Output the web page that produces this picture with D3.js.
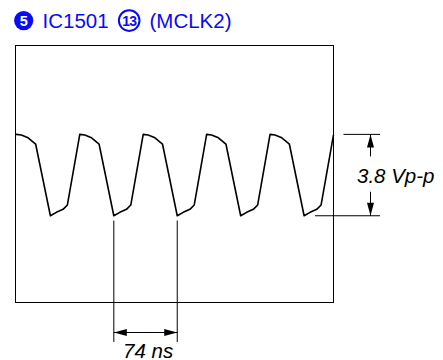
<!DOCTYPE html>
<html><head><meta charset="utf-8">
<script src="https://cdn.jsdelivr.net/npm/d3@7"></script>
<style>
body{margin:0;background:#fff}
svg{display:block}
text{font-family:"Liberation Sans",Arial,Helvetica,sans-serif}
</style>
</head><body>
<svg id="c" width="443" height="360"></svg>
<script>
// ---- data ----
const titleNumber = "5";
const titleChip = "IC1501";
const titlePin = "13";
const titleSignal = "(MCLK2)";

const waveTime = [0, 1, 6.8, 14.7, 23.5, 40.7, 47.7, 55.5, 60.5,
  75, 80.8, 88.7, 97.5, 114.7, 121.7, 129.5, 134.5,
  149, 154.8, 162.7, 171.5, 188.7, 195.7, 203.5, 208.5,
  223, 228.8, 236.7, 245.5, 262.7, 269.7, 277.5, 282.5,
  297, 302.8, 310.7, 319.5, 336.7, 343.7, 351.5, 356.5,
  371];
const waveVolt = [3.8, 3.8, 3.77, 3.64, 3.35, 0, 0.16, 0.30, 0.50,
  3.8, 3.77, 3.64, 3.35, 0, 0.16, 0.30, 0.50,
  3.8, 3.77, 3.64, 3.35, 0, 0.16, 0.30, 0.50,
  3.8, 3.77, 3.64, 3.35, 0, 0.16, 0.30, 0.50,
  3.8, 3.77, 3.64, 3.35, 0, 0.16, 0.30, 0.50,
  3.78];

const timeDomain = [0, 371];      // ns across the screen
const voltDomain = [-4.05, 7.95]; // volts across the screen
const lowLevel = 0;
const highLevel = 3.8;
const periodStartNs = 114.7;
const periodNs = 74;
const ppLabel = "3.8 Vp-p";
const periodLabel = "74 ns";

// ---- drawing ----
const svg = d3.select("#c");
const box = {left: 15.5, right: 333.5, top: 45.5, bottom: 302.5};
const x = d3.scaleLinear().domain(timeDomain).range([box.left, box.right]);
const y = d3.scaleLinear().domain(voltDomain).range([box.bottom, box.top]);
const blue = "#0a0af5";

// title
const tg = svg.append("g");
tg.append("circle").attr("cx", 23.7).attr("cy", 20.6).attr("r", 9.6).attr("fill", blue);
tg.append("text").attr("x", 23.7).attr("y", 25.7).attr("text-anchor", "middle")
  .attr("fill", "#fff").attr("font-weight", "bold").attr("font-size", 14.5).text(titleNumber);
tg.append("text").attr("x", 42.5).attr("y", 28.4).attr("fill", blue)
  .attr("font-size", 20.5).text(titleChip);
tg.append("circle").attr("cx", 129.2).attr("cy", 20.6).attr("r", 10.3).attr("fill", "none")
  .attr("stroke", blue).attr("stroke-width", 2);
tg.append("text").attr("x", 129.2).attr("y", 25.6).attr("text-anchor", "middle")
  .attr("fill", blue).attr("font-size", 14).attr("font-weight", "bold")
  .attr("letter-spacing", -0.8).text(titlePin);
tg.append("text").attr("x", 149.5).attr("y", 28.4).attr("fill", blue)
  .attr("font-size", 20.5).text(titleSignal);

// screen box
svg.append("rect").attr("x", box.left).attr("y", box.top)
  .attr("width", box.right - box.left).attr("height", box.bottom - box.top)
  .attr("fill", "none").attr("stroke", "#000").attr("stroke-width", 1);

// waveform
const pts = waveTime.map((t, i) => [t, waveVolt[i]]);
svg.append("path").datum(pts)
  .attr("d", d3.line().x(d => x(d[0])).y(d => y(d[1])))
  .attr("fill", "none").attr("stroke", "#000").attr("stroke-width", 1.6)
  .attr("stroke-linejoin", "round");

// amplitude dimension
const ax = 370.5;
const yHi = y(highLevel), yLo = y(lowLevel);
svg.append("line").attr("x1", 343.5).attr("x2", 380).attr("y1", yHi).attr("y2", yHi)
  .attr("stroke", "#000");
svg.append("line").attr("x1", 315).attr("x2", 380).attr("y1", yLo).attr("y2", yLo)
  .attr("stroke", "#000");
svg.append("line").attr("x1", ax).attr("x2", ax).attr("y1", yHi).attr("y2", yHi + 22)
  .attr("stroke", "#000");
svg.append("line").attr("x1", ax).attr("x2", ax).attr("y1", yLo - 24).attr("y2", yLo)
  .attr("stroke", "#000");
svg.append("path").attr("d", `M${ax},${yHi} L${ax - 3.5},${yHi + 13} L${ax + 3.5},${yHi + 13} Z`).attr("fill", "#000");
svg.append("path").attr("d", `M${ax},${yLo} L${ax - 3.5},${yLo - 13} L${ax + 3.5},${yLo - 13} Z`).attr("fill", "#000");
svg.append("text").attr("x", 357).attr("y", (yHi + yLo) / 2 + 7.5)
  .attr("font-style", "italic").attr("font-size", 20.5).attr("fill", "#000").text(ppLabel);

// period dimension
const x1 = x(periodStartNs), x2 = x(periodStartNs + periodNs);
const ay = 332.5;
[x1, x2].forEach(px => {
  svg.append("line").attr("x1", px).attr("x2", px).attr("y1", 220.5).attr("y2", 342)
    .attr("stroke", "#000");
});
svg.append("line").attr("x1", x1).attr("x2", x2).attr("y1", ay).attr("y2", ay).attr("stroke", "#000");
svg.append("path").attr("d", `M${x1},${ay} L${x1 + 13},${ay - 3.5} L${x1 + 13},${ay + 3.5} Z`).attr("fill", "#000");
svg.append("path").attr("d", `M${x2},${ay} L${x2 - 13},${ay - 3.5} L${x2 - 13},${ay + 3.5} Z`).attr("fill", "#000");
svg.append("text").attr("x", 123).attr("y", 357.5)
  .attr("font-style", "italic").attr("font-size", 20.5).attr("fill", "#000").text(periodLabel);
</script>
</body></html>
